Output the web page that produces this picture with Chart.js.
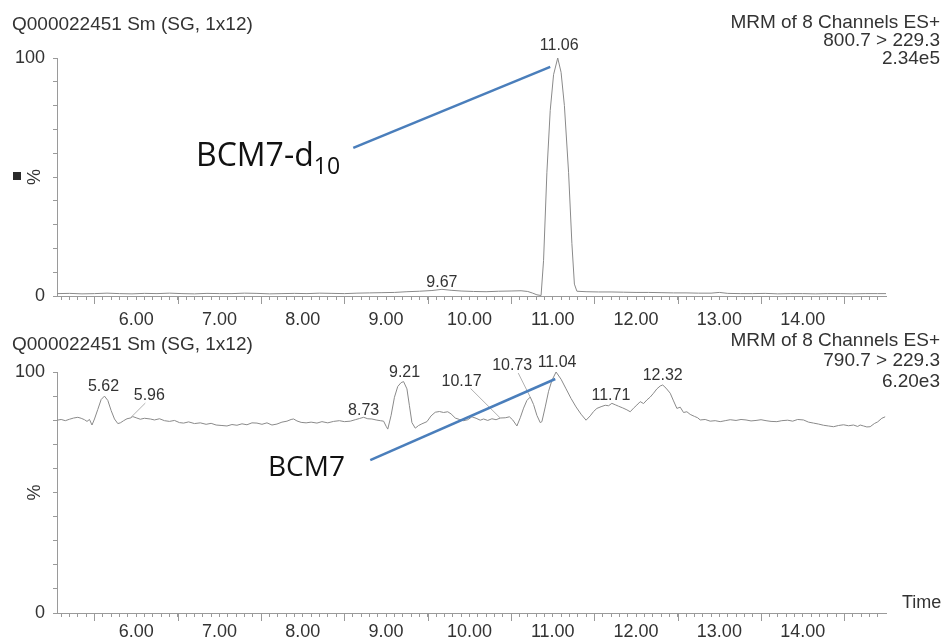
<!DOCTYPE html>
<html>
<head>
<meta charset="utf-8">
<script src="https://cdn.jsdelivr.net/npm/chart.js@4.4.1/dist/chart.umd.min.js"></script>
<style>
  html, body { margin: 0; padding: 0; background: #fff; overflow: hidden; }
  #wrap { position: relative; width: 946px; height: 639px; }
  canvas { position: absolute; left: 0; }
  #chromTop { top: 0; }
  #chromBottom { top: 325px; }
</style>
</head>
<body>
<div id="wrap">
  <canvas id="chromTop" width="946" height="335" style="width:946px;height:335px"></canvas>
  <canvas id="chromBottom" width="946" height="314" style="width:946px;height:314px"></canvas>
</div>
<script>
// ---- Sample / channel text ----
const sampleName = 'Q000022451 Sm (SG, 1x12)';
const channelTop = ['MRM of 8 Channels ES+', '800.7 > 229.3', '2.34e5'];
const channelBottom = ['MRM of 8 Channels ES+', '790.7 > 229.3', '6.20e3'];

// ---- Axis tick labels ----
const xTickTimes = [6, 7, 8, 9, 10, 11, 12, 13, 14];
const xTickLabels = ['6.00', '7.00', '8.00', '9.00', '10.00', '11.00', '12.00', '13.00', '14.00'];
const yTickValues = [0, 100];
const yTickLabels = ['0', '100'];

// ---- Trace 1: 800.7 > 229.3 (BCM7-d10), relative intensity % ----
const retentionTop = [
  5.05, 5.2, 5.35, 5.5, 5.65, 5.8, 5.95, 6.1, 6.25, 6.4,
  6.55, 6.7, 6.85, 7.0, 7.15, 7.3, 7.45, 7.6, 7.75, 7.9,
  8.05, 8.2, 8.35, 8.5, 8.65, 8.8, 8.95, 9.1, 9.25, 9.4,
  9.55, 9.67, 9.78, 9.9, 10.05, 10.2, 10.35, 10.5, 10.62, 10.7,
  10.76, 10.81, 10.86, 10.89, 10.93, 10.97, 11.01, 11.06, 11.10, 11.14,
  11.19, 11.23, 11.26, 11.29, 11.4, 11.55, 11.7, 11.85, 12.0, 12.15,
  12.3, 12.45, 12.6, 12.75, 12.9, 13.0, 13.1, 13.25, 13.4, 13.55,
  13.7, 13.85, 14.0, 14.15, 14.3, 14.45, 14.6, 14.75, 14.9, 15.0
];
const intensityTop = [
  1.0, 1.1, 0.9, 1.0, 1.2, 1.0, 0.9, 1.1, 1.0, 1.2,
  1.0, 0.9, 1.1, 1.0, 1.0, 1.2, 1.1, 0.9, 1.0, 1.1,
  1.0, 1.2, 1.1, 1.0, 1.2, 1.3, 1.4, 1.5, 1.8, 2.0,
  2.3, 2.8, 2.4, 2.1, 1.9, 1.8, 2.0, 2.1, 2.2, 1.9,
  1.2, 0.5, 0.2, 15, 52, 78, 93, 100, 94, 80,
  52, 22, 5, 2.0, 1.8, 1.7, 1.7, 1.6, 1.5, 1.5,
  1.4, 1.3, 1.3, 1.2, 1.2, 1.5, 1.1, 1.0, 1.0, 1.1,
  0.9, 1.0, 1.0, 0.9, 1.0, 1.0, 0.9, 1.0, 1.0, 1.0
];
const peakTimesTop = [11.06, 9.67];

// ---- Trace 2: 790.7 > 229.3 (BCM7), relative intensity % ----
const retentionBottom = [
  5.05, 5.10, 5.15, 5.20, 5.25, 5.30, 5.34, 5.38, 5.41, 5.44,
  5.47, 5.50, 5.54, 5.58, 5.62, 5.66, 5.70, 5.74, 5.78, 5.81,
  5.85, 5.89, 5.93, 5.96, 6.00, 6.05, 6.10, 6.17, 6.22, 6.28,
  6.34, 6.40, 6.46, 6.52, 6.57, 6.63, 6.70, 6.77, 6.84, 6.90,
  6.96, 7.03, 7.09, 7.15, 7.21, 7.27, 7.33, 7.39, 7.45, 7.51,
  7.57, 7.63, 7.69, 7.75, 7.81, 7.86, 7.89, 7.93, 7.98, 8.04,
  8.10, 8.17, 8.23, 8.30, 8.37, 8.44, 8.50, 8.57, 8.63, 8.68,
  8.73, 8.78, 8.83, 8.88, 8.93, 8.97, 9.00, 9.02, 9.06, 9.10,
  9.14, 9.18, 9.21, 9.25, 9.28, 9.31, 9.35, 9.39, 9.43, 9.49,
  9.54, 9.59, 9.64, 9.69, 9.74, 9.78, 9.83, 9.88, 9.93, 9.98,
  10.03, 10.08, 10.13, 10.17, 10.22, 10.27, 10.32, 10.37, 10.43, 10.48,
  10.52, 10.57, 10.61, 10.65, 10.69, 10.73, 10.77, 10.81, 10.85, 10.87,
  10.91, 10.95, 10.99, 11.04, 11.10, 11.16, 11.22, 11.28, 11.34, 11.40,
  11.45, 11.49, 11.53, 11.58, 11.63, 11.67, 11.71, 11.75, 11.79, 11.84,
  11.89, 11.93, 11.97, 12.01, 12.05, 12.09, 12.13, 12.17, 12.21, 12.25,
  12.29, 12.32, 12.36, 12.41, 12.45, 12.49, 12.53, 12.57, 12.61, 12.65,
  12.70, 12.74, 12.77, 12.83, 12.89, 12.95, 13.01, 13.07, 13.13, 13.20,
  13.26, 13.32, 13.38, 13.44, 13.50, 13.56, 13.62, 13.69, 13.75, 13.82,
  13.88, 13.94, 14.01, 14.07, 14.13, 14.19, 14.25, 14.31, 14.37, 14.43,
  14.49, 14.55, 14.61, 14.66, 14.69, 14.73, 14.77, 14.81, 14.86, 14.90,
  14.95, 14.99
];
const intensityBottom = [
  80.0, 80.3, 79.8, 80.4, 80.9, 81.2, 80.8, 80.2, 79.5, 80.3,
  78.0, 80.5, 84.5, 88.6, 90.0, 88.2, 84.0, 80.5, 78.6, 78.9,
  79.8, 80.6, 80.9, 81.5, 81.0, 80.4, 80.8, 80.5, 80.1, 80.6,
  79.8, 79.5, 79.9, 79.0, 78.8, 79.3, 78.6, 78.9, 78.3, 78.7,
  78.0, 77.8, 77.6, 78.2, 77.9, 78.5, 78.1, 78.9, 78.8, 78.3,
  78.9, 78.0, 78.4, 79.2, 79.6, 80.3, 80.5, 79.7, 79.1, 78.9,
  79.2, 78.8, 79.4, 78.9, 79.5, 79.8, 79.4, 79.6, 80.2, 80.7,
  81.2, 80.6, 80.5, 80.1, 79.8, 79.6, 77.5, 76.3, 82.0, 89.5,
  94.0, 95.6, 96.0, 93.0, 86.0, 79.0, 76.7, 77.8, 78.5, 79.4,
  81.8, 83.3, 83.6, 83.2, 83.5, 82.6, 80.9, 80.3, 79.8, 80.2,
  81.4, 80.8, 80.0, 80.5, 79.9, 80.6, 80.2, 80.9, 81.0, 81.4,
  80.1, 77.6, 81.0, 85.0, 88.2, 89.6, 86.5, 82.0, 79.0, 79.4,
  85.5, 92.0, 96.5, 100, 97.0, 93.0, 89.0, 85.5, 82.5, 80.0,
  81.8, 83.6, 84.9, 85.6, 86.2, 86.0, 87.0, 86.4, 85.8, 85.1,
  84.3, 83.5, 85.0, 86.3, 87.7, 86.9, 88.4, 89.6, 91.2, 93.0,
  94.2, 94.6, 93.3, 91.2, 88.0, 84.9, 85.4, 83.2, 83.5, 82.4,
  81.6, 81.0, 80.1, 80.3, 79.6, 79.8, 79.4, 79.8, 80.2, 79.9,
  80.3, 80.1, 79.7, 79.9, 80.2, 79.8, 79.5, 79.4, 79.8, 80.0,
  79.6, 80.3, 80.1, 79.2, 78.8, 78.4, 77.9, 77.6, 77.3, 77.8,
  78.1, 77.7, 78.0, 77.4, 78.0, 77.6, 77.2, 77.3, 78.6, 79.3,
  80.8, 81.4
];
const peakTimesBottom = [5.62, 5.96, 8.73, 9.21, 10.17, 10.73, 11.04, 11.71, 12.32];

// ---- Drawing helpers ----
const FONT = '"Liberation Sans", Arial, sans-serif';
const TRACE = '#8a8a8a';
const AXIS = '#9a9a9a';
const INK = '#333333';
const CALLOUT = '#4a7ebb';

// every 0.1 min along the time axis
const minorTimes = Array.from({ length: 99 }, (_, i) => (51 + i) / 10);

function valueAt(times, vals, t) {
  let best = 0;
  for (let i = 1; i < times.length; i++) {
    if (Math.abs(times[i] - t) < Math.abs(times[best] - t)) best = i;
  }
  return vals[best];
}

function xLabel(v) {
  const i = xTickTimes.findIndex(t => Math.abs(t - v) < 1e-6);
  return i >= 0 ? xTickLabels[i] : '';
}
function yLabel(v) {
  const i = yTickValues.findIndex(t => Math.abs(t - v) < 1e-6);
  return i >= 0 ? yTickLabels[i] : '';
}

function seg(ctx, x1, y1, x2, y2) {
  ctx.beginPath(); ctx.moveTo(x1, y1); ctx.lineTo(x2, y2); ctx.stroke();
}

function decorPlugin(p) {
  return {
    id: 'chromDecor',
    afterDraw(chart) {
      const ctx = chart.ctx;
      const xs = chart.scales.x, ys = chart.scales.y;
      const off = p.offset;
      ctx.save();

      // header lines
      ctx.fillStyle = INK;
      ctx.font = '19px ' + FONT;
      ctx.textBaseline = 'middle';
      ctx.textAlign = 'left';
      ctx.fillText(sampleName, 12, p.nameY - off);
      ctx.textAlign = 'right';
      p.channel.forEach((s, i) => ctx.fillText(s, 940, p.channelY[i] - off));

      // longer ticks on the half minutes
      ctx.strokeStyle = AXIS;
      ctx.lineWidth = 1;
      const yb = ys.getPixelForValue(0);
      for (let k = 11; k <= 29; k += 2) {
        const px = Math.round(xs.getPixelForValue(k / 2)) + 0.5;
        seg(ctx, px, yb, px, yb + 8);
      }

      // y-axis unit
      const midY = ys.getPixelForValue(50);
      ctx.fillStyle = INK;
      ctx.font = '18px ' + FONT;
      ctx.save();
      ctx.translate(35, midY);
      ctx.rotate(-Math.PI / 2);
      ctx.textAlign = 'center';
      ctx.textBaseline = 'middle';
      ctx.fillText('%', 0, 0);
      ctx.restore();
      if (p.marker) {
        ctx.fillStyle = '#2a2a2a';
        ctx.fillRect(13, midY - 5, 8, 8);
      }

      // peak apex labels with optional leader lines
      ctx.font = '16px ' + FONT;
      ctx.textAlign = 'center';
      ctx.textBaseline = 'middle';
      p.peaks.forEach((t, i) => {
        const o = p.peakStyle[i];
        const px = xs.getPixelForValue(t);
        const py = ys.getPixelForValue(valueAt(p.times, p.vals, t));
        const lx = px + o.dx, ly = py - o.dy;
        if (o.leadTo !== undefined) {
          const tx = xs.getPixelForValue(o.leadTo);
          const ty = ys.getPixelForValue(valueAt(p.times, p.vals, o.leadTo));
          ctx.strokeStyle = '#b0b0b0';
          ctx.lineWidth = 1;
          seg(ctx, lx + o.lx, ly + 7, tx, ty);
        }
        ctx.fillStyle = INK;
        ctx.fillText(t.toFixed(2), lx, ly);
      });

      // compound callout
      const c = p.callout;
      ctx.strokeStyle = CALLOUT;
      ctx.lineWidth = 2.5;
      seg(ctx, xs.getPixelForValue(c.from[0]), ys.getPixelForValue(c.from[1]),
               xs.getPixelForValue(c.to[0]), ys.getPixelForValue(c.to[1]));
      ctx.fillStyle = '#111';
      ctx.textAlign = 'left';
      ctx.textBaseline = 'alphabetic';
      ctx.font = c.size + 'px "Open Sans", sans-serif';
      ctx.fillText(c.text, c.x, c.y - off);
      if (c.sub) {
        const w = ctx.measureText(c.text).width;
        ctx.font = Math.round(c.size * 0.72) + 'px "Open Sans", sans-serif';
        ctx.fillText(c.sub, c.x + w, c.y - off + 8);
      }

      if (p.timeLabel) {
        ctx.fillStyle = INK;
        ctx.font = '18px ' + FONT;
        ctx.textAlign = 'left';
        ctx.textBaseline = 'middle';
        ctx.fillText('Time', 902, 603 - off);
      }
      ctx.restore();
    }
  };
}

function buildPanel(id, p) {
  return new Chart(document.getElementById(id), {
    type: 'line',
    data: {
      datasets: [{
        data: p.times.map((t, i) => ({ x: t, y: p.vals[i] })),
        borderColor: TRACE,
        borderWidth: 1,
        pointRadius: 0,
        tension: 0,
        fill: false
      }]
    },
    options: {
      responsive: false,
      animation: false,
      events: [],
      layout: { padding: { top: p.areaTop, right: 60, left: 0, bottom: 0 } },
      plugins: { legend: { display: false }, tooltip: { enabled: false } },
      scales: {
        x: {
          type: 'linear',
          min: 5.05,
          max: 15.0,
          afterBuildTicks: s => { s.ticks = minorTimes.map(v => ({ value: v })); },
          afterFit: s => { s.height = p.height - p.areaBottom; },
          grid: { drawOnChartArea: false, tickLength: 4, color: AXIS },
          border: { color: AXIS, width: 1 },
          ticks: {
            autoSkip: false, maxRotation: 0, minRotation: 0,
            padding: p.tickPad, color: INK,
            font: { family: FONT, size: 18 },
            callback: v => xLabel(v)
          }
        },
        y: {
          min: 0,
          max: 100,
          afterBuildTicks: s => { s.ticks = Array.from({ length: 11 }, (_, i) => ({ value: i * 10 })); },
          afterFit: s => { s.width = 57; },
          grid: { drawOnChartArea: false, tickLength: 4, color: AXIS },
          border: { color: AXIS, width: 1 },
          ticks: {
            autoSkip: false, padding: 8, color: INK,
            font: { family: FONT, size: 18 },
            callback: v => yLabel(v)
          }
        }
      }
    },
    plugins: [decorPlugin(p)]
  });
}

buildPanel('chromTop', {
  offset: 0, height: 335, areaTop: 58, areaBottom: 296, tickPad: 9,
  times: retentionTop, vals: intensityTop,
  nameY: 25, channel: channelTop, channelY: [23, 41, 59],
  marker: true, timeLabel: false,
  peaks: peakTimesTop,
  peakStyle: [{ dx: 1.5, dy: 12 }, { dx: 0, dy: 7 }],
  callout: { from: [8.606, 62.2], to: [10.97, 96.3], text: 'BCM7-d', sub: '10', size: 32, x: 196, y: 166 }
});

buildPanel('chromBottom', {
  offset: 325, height: 314, areaTop: 47, areaBottom: 288, tickPad: 4,
  times: retentionBottom, vals: intensityBottom,
  nameY: 345, channel: channelBottom, channelY: [341, 361, 382],
  marker: false, timeLabel: true,
  peaks: peakTimesBottom,
  peakStyle: [
    { dx: -1, dy: 9.5 },
    { dx: 16.5, dy: 20.5, leadTo: 5.93, lx: -4 },
    { dx: 0, dy: 7 },
    { dx: 1, dy: 9 },
    { dx: -22, dy: 37.5, leadTo: 10.37, lx: 9 },
    { dx: -18, dy: 31, leadTo: 10.73, lx: 6 },
    { dx: 1, dy: 9.5 },
    { dx: -1, dy: 7.3 },
    { dx: 0, dy: 9 }
  ],
  callout: { from: [8.81, 63.4], to: [11.03, 97.1], text: 'BCM7', size: 28, x: 268, y: 476 }
});
</script>
</body>
</html>
